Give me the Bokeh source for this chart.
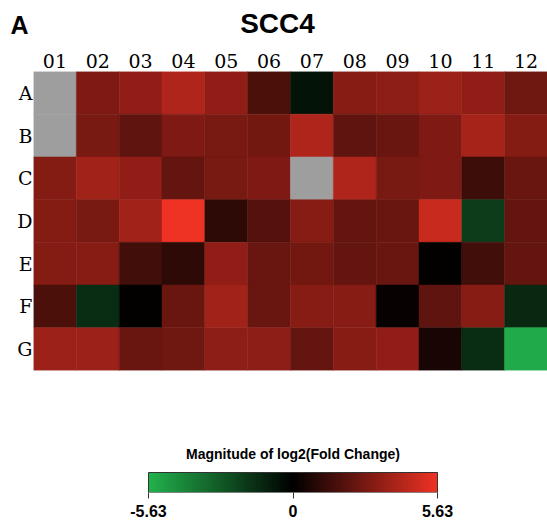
import numpy as np
from bokeh.plotting import figure
from bokeh.models import LinearColorMapper, ColumnDataSource, FixedTicker, Range1d
from bokeh.core.properties import value
from bokeh.layouts import column
from bokeh.embed import file_html
from bokeh.resources import INLINE

# ---- data ----
columns = ["01", "02", "03", "04", "05", "06", "07", "08", "09", "10", "11", "12"]
rows = ["A", "B", "C", "D", "E", "F", "G"]
nan = float("nan")
row_A = [nan, 2.96, 3.43, 4.14, 3.43, 1.77, -0.60, 3.19, 3.31, 3.67, 3.43, 2.60]
row_B = [nan, 2.84, 2.25, 2.96, 2.84, 2.72, 4.14, 2.25, 2.48, 2.96, 3.90, 3.08]
row_C = [3.08, 3.79, 3.43, 2.37, 2.84, 2.96, nan, 4.14, 2.84, 2.96, 1.42, 2.48]
row_D = [3.08, 2.84, 3.79, 5.63, 1.06, 2.01, 3.19, 2.37, 2.48, 4.73, -1.90, 2.37]
row_E = [3.08, 3.19, 1.54, 1.06, 3.43, 2.48, 2.72, 2.37, 2.48, 0.08, 1.54, 2.37]
row_F = [1.77, -1.43, 0.05, 2.48, 3.79, 2.48, 3.19, 3.19, 0.15, 2.25, 3.19, -1.27]
row_G = [3.67, 3.67, 2.48, 2.60, 3.31, 3.31, 2.37, 3.19, 3.43, 0.59, -1.43, -5.40]
scale_min, scale_max = -5.63, 5.63
scale_ticks = [-5.63, 0, 5.63]
scale_tick_labels = ["-5.63", "0", "5.63"]
title = "SCC4"
panel_letter = "A"
legend_title = "Magnitude of log2(Fold Change)"

# ---- colour scale green-black-red ----
green_end = (34, 177, 76)
red_end = (238, 50, 36)
palette = []
for i in range(256):
    t = i / 255 * 2 - 1
    if t < 0:
        c = tuple(int(round(-t * g)) for g in green_end)
    else:
        c = tuple(int(round(t * r)) for r in red_end)
    palette.append("#%02x%02x%02x" % c)
mapper = LinearColorMapper(palette=palette, low=scale_min, high=scale_max, nan_color="#9e9e9e")

all_rows = [row_A, row_B, row_C, row_D, row_E, row_F, row_G]
xs, ys, vals = [], [], []
for r, rv in zip(rows, all_rows):
    for c, v in zip(columns, rv):
        xs.append(c)
        ys.append(r)
        vals.append(v)
source = ColumnDataSource(dict(x=xs, y=ys, value=np.array(vals, dtype=float)))

BORDER_L, BORDER_R = 33, 0
W = 547
FRAME_W = W - BORDER_L - BORDER_R

# ---- header strip: panel letter + title ----
H0 = 45
p0 = figure(width=W, height=H0, x_range=Range1d(0, FRAME_W), y_range=Range1d(0, H0),
            output_backend="svg", toolbar_location=None)
p0.min_border = 0
p0.min_border_left = BORDER_L
p0.min_border_right = BORDER_R
p0.outline_line_color = None
p0.grid.visible = False
p0.xaxis.visible = False
p0.text(x=[244], y=[H0 - 23], text=[title], text_font=value("Liberation Sans"),
        text_font_style="bold", text_font_size="28px", text_align="center",
        text_baseline="middle", text_color="black")
ya = p0.yaxis[0]
ya.ticker = FixedTicker(ticks=[H0 - 24])
ya.major_label_overrides = {H0 - 24: panel_letter}
ya.axis_line_color = None
ya.major_tick_line_color = None
ya.minor_tick_line_color = None
ya.major_tick_in = 0
ya.major_tick_out = 0
ya.major_label_standoff = 5
ya.major_label_text_font = "Liberation Sans"
ya.major_label_text_font_style = "bold"
ya.major_label_text_font_size = "25px"
ya.major_label_text_color = "black"

# ---- heatmap ----
p1 = figure(width=W, height=333, x_range=columns, y_range=list(reversed(rows)),
            x_axis_location="above", output_backend="svg", toolbar_location=None)
p1.min_border = 0
p1.min_border_left = BORDER_L
p1.min_border_right = BORDER_R
p1.min_border_top = 26
p1.min_border_bottom = 8
p1.outline_line_color = None
p1.grid.visible = False
p1.rect(x="x", y="y", width=1, height=1, source=source,
        fill_color={"field": "value", "transform": mapper},
        line_color={"field": "value", "transform": mapper}, line_width=0.5)
for ax in (p1.xaxis[0], p1.yaxis[0]):
    ax.axis_line_color = None
    ax.major_tick_line_color = None
    ax.minor_tick_line_color = None
    ax.major_tick_in = 0
    ax.major_tick_out = 0
    ax.major_label_text_font = "DejaVu Serif"
    ax.major_label_text_font_size = "19px"
    ax.major_label_text_color = "black"
p1.xaxis.major_label_standoff = 4
p1.yaxis.major_label_standoff = 1

# ---- colour scale strip ----
H2 = 525 - H0 - 333
px_per_unit = 289 / (scale_max - scale_min)
x_start = scale_min - (148 - BORDER_L) / px_per_unit
x_end = x_start + FRAME_W / px_per_unit
p2 = figure(width=W, height=H2, x_range=Range1d(x_start, x_end), y_range=Range1d(0, 114 / 20),
            output_backend="svg", toolbar_location=None)
p2.min_border = 0
p2.min_border_left = BORDER_L
p2.min_border_right = BORDER_R
p2.min_border_top = 0
p2.min_border_bottom = H2 - 114
p2.grid.visible = False
p2.yaxis.visible = False
p2.outline_line_color = None
grad = np.linspace(scale_min, scale_max, 256)[None, :]
p2.image(image=[grad], x=scale_min, y=0, dw=scale_max - scale_min, dh=1, color_mapper=mapper)
p2.quad(left=[scale_min], right=[scale_max], bottom=[0], top=[1], fill_color=None,
        line_color="#333333", line_width=1)
p2.text(x=[(scale_min + scale_max) / 2], y=[1.95], text=[legend_title], text_align="center",
        text_baseline="middle", text_font=value("Liberation Sans"), text_font_size="14px",
        text_font_style="bold", text_color="black")
xa = p2.xaxis[0]
xa.ticker = FixedTicker(ticks=scale_ticks)
xa.major_label_overrides = {t: l for t, l in zip(scale_ticks, scale_tick_labels)}
xa.axis_line_color = None
xa.major_tick_in = 0
xa.major_tick_out = 6
xa.major_tick_line_color = "#333333"
xa.minor_tick_line_color = None
xa.major_label_standoff = 6
xa.major_label_text_font = "Liberation Sans"
xa.major_label_text_font_style = "bold"
xa.major_label_text_font_size = "16px"
xa.major_label_text_color = "black"

layout = column(p0, p1, p2, spacing=0)
open("out.html", "w").write(file_html(layout, INLINE))
